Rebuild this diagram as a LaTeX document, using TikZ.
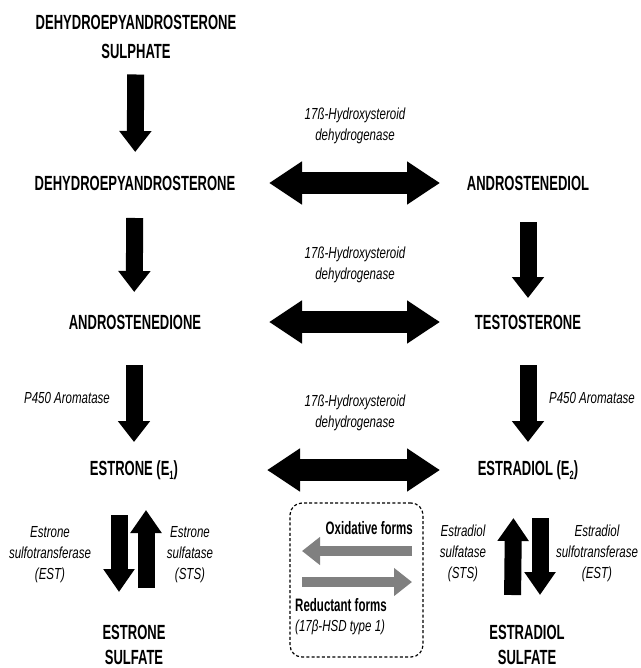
\documentclass[tikz,border=0pt]{standalone}
\usepackage{fontspec}
\setmainfont{Liberation Sans}
\newfontfamily\labfont[FakeStretch=0.635]{Liberation Sans}
\newfontfamily\legfont[FakeStretch=0.64]{Liberation Sans}
\newfontfamily\enzfont[FakeStretch=0.72]{Liberation Sans}
\usetikzlibrary{arrows.meta}
\definecolor{arrgray}{RGB}{128,128,128}
\newcommand{\subn}[1]{\raisebox{-0.35ex}{\fontsize{12}{12}\selectfont #1}}
\tikzset{
  mainlab/.style={font=\labfont\bfseries\fontsize{20.5}{26}\selectfont, align=center, inner sep=0pt},
  enzlab/.style={font=\enzfont\itshape\fontsize{16}{21}\selectfont, align=center, inner sep=0pt},
  leglab/.style={font=\legfont\bfseries\fontsize{18}{20}\selectfont, inner sep=0pt},
  bigarrow/.style={line width=17pt, -{Triangle[length=21pt,width=31pt]}},
  pairarrow/.style={line width=17pt, -{Triangle[length=23pt,width=30pt]}},
  dblarrow/.style={line width=22pt, {Triangle[length=33pt,width=41pt]}-{Triangle[length=33pt,width=41pt]}},
  grayarrow/.style={line width=10pt, draw=arrgray, -{Triangle[length=18pt,width=27pt]}},
  legbox/.style={draw, dashed, dash pattern=on 3pt off 2.2pt, line width=1.2pt, rounded corners=12pt, minimum width=133pt, minimum height=154pt, inner sep=0pt}
}
\begin{document}
\begin{tikzpicture}[x=1pt,y=-1pt]
\useasboundingbox[fill=white] (0,0) rectangle (640,668);

% main compounds
\node[mainlab, font=\labfont\bfseries\fontsize{20.5}{29}\selectfont] (dheas) at (136,36.5) {DEHYDROEPYANDROSTERONE\\SULPHATE};
\node[mainlab] (dhea) at (135,183) {DEHYDROEPYANDROSTERONE};
\node[mainlab] (andro) at (135,322) {ANDROSTENEDIONE};
\node[mainlab] (e1) at (134,470) {ESTRONE (E\subn{1})};
\node[mainlab, font=\labfont\bfseries\fontsize{20.5}{25}\selectfont] (es) at (134,645) {ESTRONE\\SULFATE};

\node[mainlab] (adiol) at (528,183) {ANDROSTENEDIOL};
\node[mainlab] (testo) at (528,322) {TESTOSTERONE};
\node[mainlab] (e2) at (528,470) {ESTRADIOL (E\subn{2})};
\node[mainlab, font=\labfont\bfseries\fontsize{20.5}{25}\selectfont] (e2s) at (527,645) {ESTRADIOL\\SULFATE};

% enzyme labels
\node[enzlab] (hsd1) at (355,126) {17ß-Hydroxysteroid\\dehydrogenase};
\node[enzlab] (hsd2) at (355,265) {17ß-Hydroxysteroid\\dehydrogenase};
\node[enzlab] (hsd3) at (355,413) {17ß-Hydroxysteroid\\dehydrogenase};
\node[enzlab] (aroL) at (67,398) {P450 Aromatase};
\node[enzlab] (aroR) at (592,398) {P450 Aromatase};
\node[enzlab] (estL) at (50,555) {Estrone\\sulfotransferase\\(EST)};
\node[enzlab] (stsL) at (190,555) {Estrone\\sulfatase\\(STS)};
\node[enzlab] (stsR) at (463,553) {Estradiol\\sulfatase\\(STS)};
\node[enzlab] (estR) at (597,553) {Estradiol\\sulfotransferase\\(EST)};

% vertical arrows
\draw[bigarrow, shorten <=38pt, shorten >=31pt] (dheas.center) -- (dhea.center);
\draw[bigarrow, shorten <=35pt, shorten >=30pt] (dhea.center) -- ([xshift=-1pt]andro.center);
\draw[bigarrow, shorten <=43pt, shorten >=28pt] ([xshift=-1pt]andro.center) -- (e1.center);
\draw[bigarrow, shorten <=39pt, shorten >=24pt] (adiol.center) -- (testo.center);
\draw[bigarrow, shorten <=43pt, shorten >=28pt] (testo.center) -- (e2.center);

% double arrows
\draw[dblarrow, shorten <=134pt, shorten >=88pt] (dhea.center) -- (adiol.center);
\draw[dblarrow, shorten <=134pt, shorten >=88pt] (andro.center) -- (testo.center);
\draw[dblarrow, shorten <=133pt, shorten >=88pt] (e1.center) -- (e2.center);

% sulfation pairs
\draw[pairarrow, shorten <=45pt, shorten >=53pt] ([xshift=-15pt]e1.center) -- ([xshift=-15pt]es.center);
\draw[pairarrow, shorten <=57pt, shorten >=40pt] ([xshift=12pt]es.center) -- ([xshift=12pt]e1.center);
\draw[pairarrow, shorten <=50pt, shorten >=48pt] ([xshift=-15pt]e2s.center) -- ([xshift=-14pt]e2.center);
\draw[pairarrow, shorten <=48pt, shorten >=50pt] ([xshift=12pt]e2.center) -- ([xshift=13pt]e2s.center);

% legend
\node[legbox] (leg) at (356.5,580) {};
\node[leglab, anchor=east] (oxlab) at (413,528) {Oxidative forms};
\node[leglab, anchor=west] (redlab) at (295,605) {Reductant forms};
\node[enzlab, anchor=west] (typelab) at (295,627) {(17β-HSD type 1)};
\coordinate (ox1) at (412,551);
\coordinate (ox2) at (302,551);
\coordinate (rd1) at (302,582);
\coordinate (rd2) at (412,582);
\draw[grayarrow] (ox1) -- (ox2);
\draw[grayarrow] (rd1) -- (rd2);
\end{tikzpicture}
\end{document}
